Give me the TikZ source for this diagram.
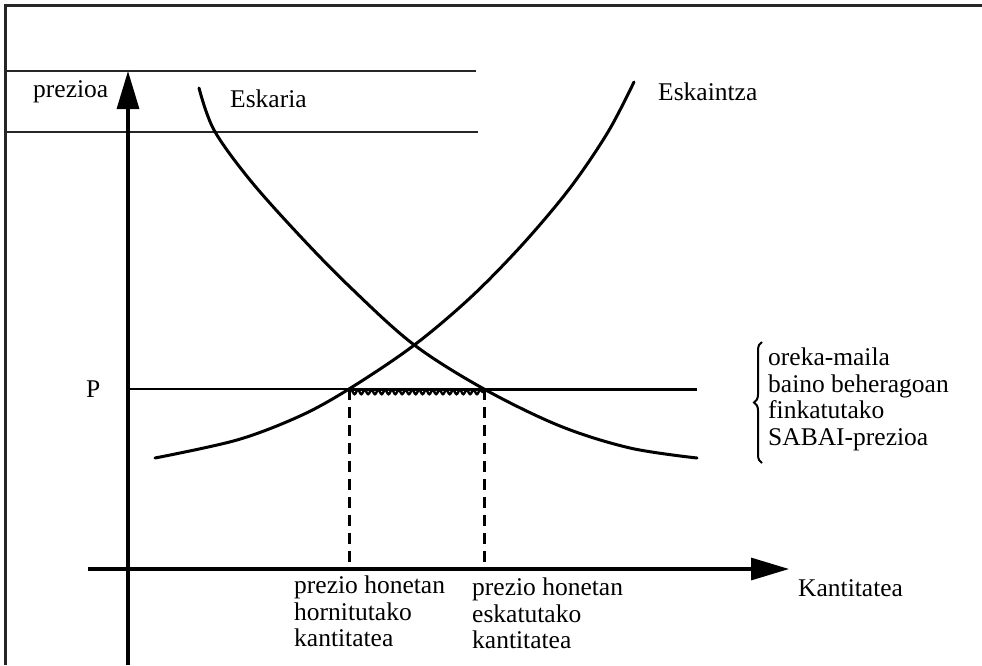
\documentclass[tikz,border=0pt]{standalone}
\usepackage{fontspec}
\setmainfont{Liberation Serif}
\usetikzlibrary{arrows.meta,decorations.pathreplacing,decorations.pathmorphing}
\begin{document}
\begin{tikzpicture}[x=1pt,y=-1pt,
  lbl/.style={inner sep=0pt, font=\fontsize{25.5}{26.5}\selectfont},
  mlbl/.style={lbl, align=left, anchor=north west},
  curve/.style={line width=3pt, line cap=round},
  axis/.style={line width=3.2pt, -{Triangle[length=38pt,width=22pt]}},
  guide/.style={line width=3pt, dash pattern=on 11pt off 7pt},
  rule/.style={line width=2.6pt, draw=black!85}]
\useasboundingbox (0,0) rectangle (982,665);
% frame
\draw[rule] (5.5,665) -- (5.5,5.5) -- (982,5.5);
\draw[rule] (5,71) -- (476,71);
\draw[rule] (5,132) -- (478,132);
% axes
\coordinate (yb) at (128,665);
\coordinate (yt) at (128,71);
\coordinate (xl) at (88,569);
\coordinate (xr) at (789,569);
\draw[axis] (yb) -- (yt);
\draw[axis] (xl) -- (xr);
% price line
\coordinate (p0) at (129,389);
\coordinate (pa) at (349,389);
\coordinate (pb) at (484,389);
\coordinate (p1) at (697,389);
\draw[line width=2pt] (p0) -- (pa);
\draw[line width=3pt] (pa) -- (p1);
% curves
\draw[curve] plot[smooth, tension=0.55] coordinates {(199,88) (214,130) (250,180) (300,236) (350,287) (413,344) (484,389) (560,426) (630,448) (697,458)};
\draw[curve] plot[smooth, tension=0.55] coordinates {(155,458) (237,440) (300,416) (349,389) (413,346) (470,298) (522,245) (570,188) (608,132) (634,82)};
% shortage
\draw[line width=2.4pt, decorate, decoration={snake, segment length=6.8pt, amplitude=2.2pt}] (349,392) -- (484,392);
\coordinate (da) at (349,569);
\coordinate (db) at (484,569);
\draw[guide] (pa) -- (da);
\draw[guide] (pb) -- (db);
% brace
\draw[line width=2pt, decorate, decoration={brace, amplitude=8pt}] (762,463) -- (762,342);
% labels
\node[lbl, anchor=base west] (lp) at (33,97) {prezioa};
\node[lbl, anchor=base west] (le) at (230,107) {Eskaria};
\node[lbl, anchor=base west] (ls) at (658,100) {Eskaintza};
\node[lbl, anchor=base west] (lP) at (86,397) {P};
\node[lbl, anchor=base west] (lk) at (798,596) {Kantitatea};
\node[mlbl] (lsab) at (768,348) {oreka-maila\\baino beheragoan\\finkatutako\\SABAI-prezioa};
\node[mlbl] (lh) at (294,576) {prezio honetan\\hornitutako\\kantitatea};
\node[mlbl] (lesk) at (472,578) {prezio honetan\\eskatutako\\kantitatea};
\end{tikzpicture}
\end{document}
